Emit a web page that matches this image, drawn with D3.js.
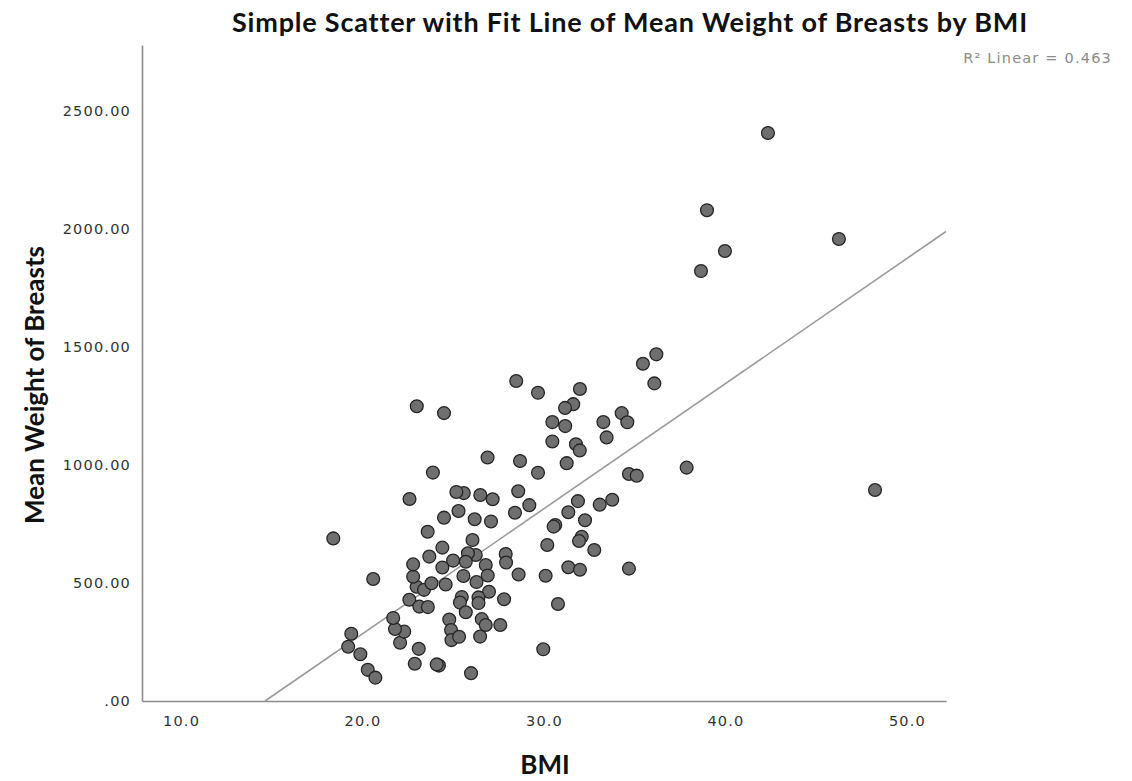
<!DOCTYPE html>
<html>
<head>
<meta charset="utf-8">
<script src="https://cdn.jsdelivr.net/npm/d3@7"></script>
<style>
  html, body { margin: 0; padding: 0; background: #fff; }
  svg { display: block; }
</style>
</head>
<body>
<svg id="chart" width="1132" height="781"></svg>
<script>
// ---- data ----
const bmi = [
  42.34, 38.98, 39.97, 38.65, 46.25, 48.24, 37.86, 36.19, 35.45, 36.08,
  34.68, 35.11, 34.68, 34.28, 34.59, 33.27, 33.45, 33.76, 33.07, 32.77,
  31.98, 31.61, 31.16, 31.17, 30.46, 30.46, 31.76, 31.97, 31.25, 31.87,
  31.34, 32.26, 32.08, 31.93, 31.34, 31.98, 30.62, 30.53, 30.18, 30.09,
  30.77, 29.96, 29.67, 28.47, 29.67, 28.68, 26.89, 28.58, 29.19, 28.40,
  27.17, 26.49, 25.58, 25.17, 25.29, 24.49, 26.18, 27.08, 27.89, 27.91,
  28.60, 26.79, 26.90, 26.97, 27.80, 26.06, 26.24, 25.81, 24.99, 25.69,
  24.40, 24.40, 25.56, 26.28, 24.58, 25.47, 25.37, 26.39, 26.39, 25.69,
  24.78, 24.88, 24.90, 25.32, 26.57, 26.79, 27.59, 26.48, 25.98, 24.21,
  24.09, 22.88, 23.10, 22.07, 22.30, 21.79, 21.69, 22.58, 23.13, 23.60,
  22.98, 23.39, 23.80, 22.79, 22.79, 23.68, 20.59, 18.39, 19.38, 19.21,
  19.88, 20.29, 20.71, 23.59, 22.59, 23.88, 22.99, 24.49
];
const meanWeight = [
  2407, 2080, 1907, 1822, 1958,  894,  989, 1469, 1429, 1346,
   962,  955,  561, 1220, 1181, 1182, 1117,  853,  832,  640,
  1322, 1258, 1242, 1165, 1182, 1100, 1088, 1062, 1008,  847,
   800,  766,  696,  678,  567,  556,  746,  739,  661,  531,
   411,  219, 1306, 1356,  967, 1017, 1032,  889,  830,  798,
   855,  873,  881,  886,  805,  777,  770,  761,  623,  587,
   536,  576,  532,  463,  431,  682,  619,  626,  595,  590,
   650,  566,  530,  504,  494,  441,  417,  439,  415,  376,
   345,  301,  258,  272,  347,  322,  322,  273,  118,  150,
   155,  158,  221,  247,  294,  305,  352,  429,  400,  398,
   484,  471,  499,  527,  579,  612,  517,  689,  285,  230,
   198,  132,   99,  717,  856,  968, 1249, 1220
];
const fitIntercept = -775.8;
const fitSlope = 53.03;
const rSquared = 0.463;
const xTicks = [10, 20, 30, 40, 50];
const yTicks = [0, 500, 1000, 1500, 2000, 2500];
const xDomain = [7.85, 52.15];
const yDomain = [0, 2780];
const titleText = "Simple Scatter with Fit Line of Mean Weight of Breasts by BMI";
const xLabel = "BMI";
const yLabel = "Mean Weight of Breasts";

// ---- drawing ----
const svg = d3.select("#chart");
const plotLeft = 142, plotRight = 946, plotTop = 45, plotBottom = 701;

const x = d3.scaleLinear().domain(xDomain).range([plotLeft, plotRight]);
const y = d3.scaleLinear().domain(yDomain).range([plotBottom, plotTop]);

const tickFont = "'DejaVu Sans', Verdana, sans-serif";
const labelFont = "Lato, 'Open Sans', sans-serif";

// axes
const xAxis = d3.axisBottom(x).tickValues(xTicks).tickSize(0).tickSizeOuter(0)
  .tickPadding(15).tickFormat(d3.format(".1f"));
const yAxis = d3.axisLeft(y).tickValues(yTicks).tickSize(0).tickSizeOuter(0)
  .tickPadding(11).tickFormat(d => d === 0 ? ".00" : d3.format(".2f")(d));

const gx = svg.append("g").attr("transform", `translate(0,${plotBottom})`).call(xAxis);
const gy = svg.append("g").attr("transform", `translate(${plotLeft},0)`).call(yAxis);

[gx, gy].forEach(g => {
  g.select(".domain").attr("stroke", "#8c8c8c").attr("stroke-width", 1.6);
  g.selectAll(".tick text")
    .attr("fill", "#333")
    .style("font-family", tickFont)
    .style("font-size", "14.5px")
    .style("letter-spacing", "1.2px");
});

// fit line
const xStart = Math.max(xDomain[0], -fitIntercept / fitSlope);
const xEnd = xDomain[1];
svg.append("line")
  .attr("x1", x(xStart)).attr("y1", y(fitIntercept + fitSlope * xStart))
  .attr("x2", x(xEnd)).attr("y2", y(fitIntercept + fitSlope * xEnd))
  .attr("stroke", "#9a9a9a").attr("stroke-width", 1.6);

// points
const pts = bmi.map((b, i) => ({ b, w: meanWeight[i] }));
svg.append("g").selectAll("circle").data(pts).join("circle")
  .attr("cx", d => x(d.b))
  .attr("cy", d => y(d.w))
  .attr("r", 6.4)
  .attr("fill", "#6f6f6f")
  .attr("stroke", "#252525")
  .attr("stroke-width", 1.3);

// title
svg.append("text")
  .attr("x", 630).attr("y", 32)
  .attr("text-anchor", "middle")
  .style("font-family", labelFont)
  .style("font-weight", "bold")
  .style("font-size", "27px")
  .style("letter-spacing", "0.8px")
  .attr("fill", "#111")
  .text(titleText);

// R squared
svg.append("text")
  .attr("x", 1112).attr("y", 63)
  .attr("text-anchor", "end")
  .style("font-family", tickFont)
  .style("font-size", "14.5px")
  .style("letter-spacing", "1.2px")
  .attr("fill", "#8a8a8a")
  .text(`R² Linear = ${rSquared.toFixed(3)}`);

// axis titles
svg.append("text")
  .attr("x", 545).attr("y", 774)
  .attr("text-anchor", "middle")
  .style("font-family", labelFont)
  .style("font-weight", "bold")
  .style("font-size", "26px")
  .attr("fill", "#111")
  .text(xLabel);

svg.append("text")
  .attr("transform", `translate(44,385) rotate(-90)`)
  .attr("text-anchor", "middle")
  .style("font-family", labelFont)
  .style("font-weight", "bold")
  .style("font-size", "26px")
  .attr("fill", "#111")
  .text(yLabel);
</script>
</body>
</html>
